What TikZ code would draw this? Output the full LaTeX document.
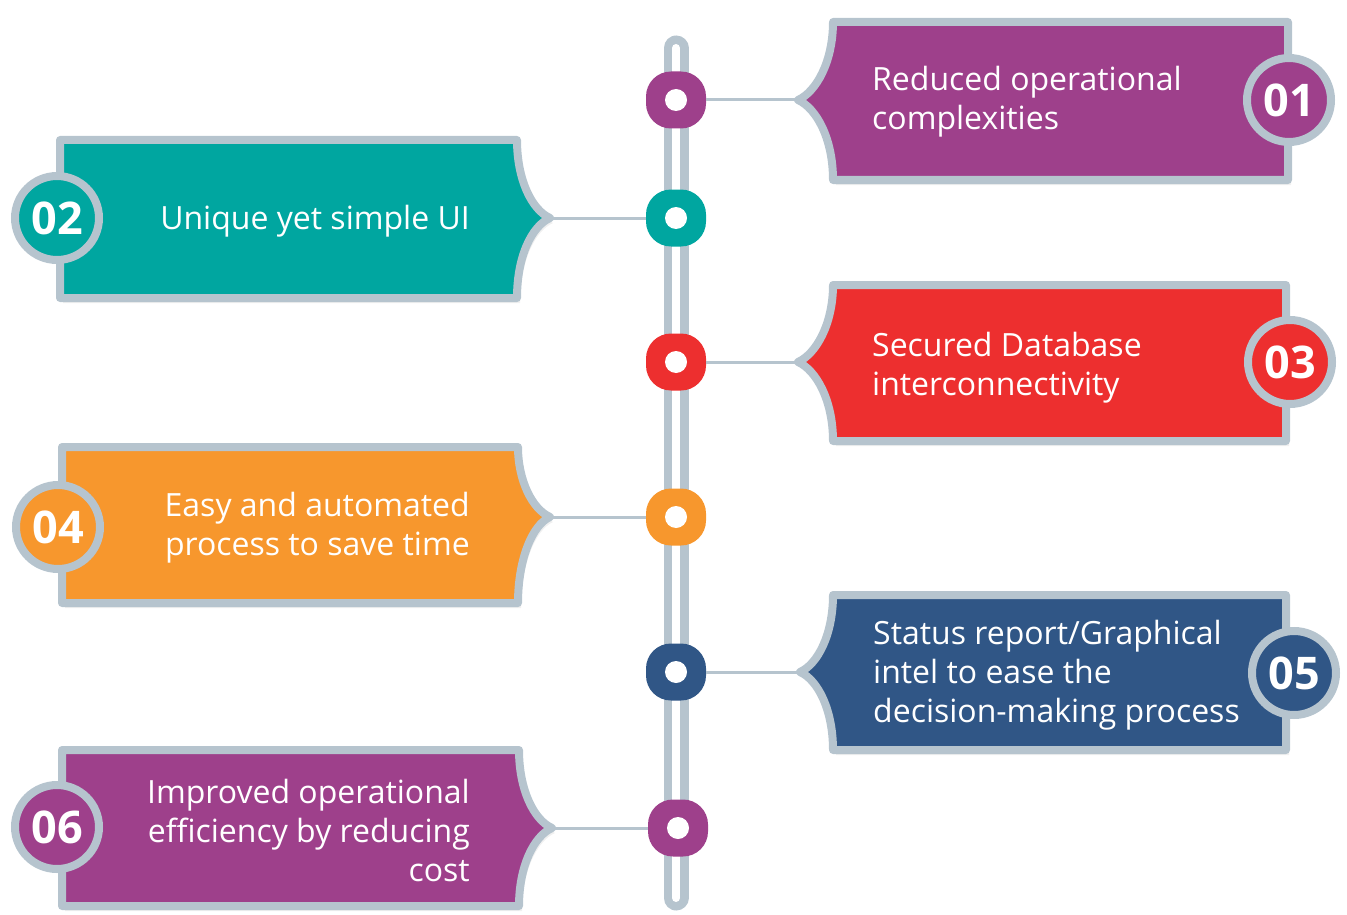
\documentclass[tikz,border=0pt]{standalone}
\usepackage{fontspec}
\setmainfont{Open Sans}
\usetikzlibrary{shadows}

\definecolor{plum}{RGB}{158,64,139}
\definecolor{sea}{RGB}{0,166,160}
\definecolor{scarlet}{RGB}{237,47,47}
\definecolor{amber}{RGB}{247,151,45}
\definecolor{navy}{RGB}{48,86,134}
\definecolor{edge}{RGB}{182,196,206}

\begin{document}
\begin{tikzpicture}[x=1pt,y=-1pt,
	card/.style={draw=edge,line width=8pt,line join=round,fill=#1,
		drop shadow={opacity=0.12,shadow xshift=3pt,shadow yshift=-5pt}},
	badge/.style={circle,draw=edge,line width=8pt,fill=#1,minimum size=84pt,inner sep=0pt,
		text=white,font=\fontsize{45}{45}\selectfont\bfseries},
	knob/.style={rectangle,rounded corners=25pt,minimum width=60pt,minimum height=57pt,fill=#1,
		path picture={\fill[white] (path picture bounding box.center) circle (11pt);}},
	blurb/.style={text=white,inner sep=0pt,font=\fontsize{32}{39}\selectfont},
	link/.style={draw=edge,line width=3pt}]

\useasboundingbox (0,0) rectangle (1347,915);

% rail
\coordinate (top) at (676,48);
\coordinate (bot) at (676,898);
\draw[edge,line width=25pt,line cap=round] (top) -- (bot);
\draw[white,line width=8pt,line cap=round] (top) -- (bot);

% dots on the rail
\node[knob=plum]    (k1) at (676,100) {};
\node[knob=sea]     (k2) at (676,218) {};
\node[knob=scarlet] (k3) at (676,362) {};
\node[knob=amber]   (k4) at (676,517) {};
\node[knob=navy]    (k5) at (676,672) {};
\node[knob=plum]    (k6) at (678,828) {};

% tips of the cards
\coordinate (t1) at (798,100);
\coordinate (t2) at (550,218);
\coordinate (t3) at (798,362);
\coordinate (t4) at (550,517);
\coordinate (t5) at (800,672);
\coordinate (t6) at (552,828);

\foreach \i in {1,...,6}
	\draw[link] (t\i) -- (k\i);

% cards
\draw[card=plum] (1288,22) -- (833,22) .. controls (833,62) and (816,92) .. (t1)
	.. controls (816,108) and (833,138) .. (833,180) -- (1288,180) -- cycle;
\draw[card=sea] (60,140) -- (517,140) .. controls (517,180) and (532,210) .. (t2)
	.. controls (532,226) and (517,256) .. (517,298) -- (60,298) -- cycle;
\draw[card=scarlet] (1286,285) -- (833,285) .. controls (833,324) and (816,354) .. (t3)
	.. controls (816,370) and (833,400) .. (833,441) -- (1286,441) -- cycle;
\draw[card=amber] (62,447) -- (518,447) .. controls (518,480) and (532,509) .. (t4)
	.. controls (532,525) and (518,560) .. (518,603) -- (62,603) -- cycle;
\draw[card=navy] (1286,595) -- (833,595) .. controls (833,634) and (818,664) .. (t5)
	.. controls (818,680) and (833,710) .. (833,750) -- (1286,750) -- cycle;
\draw[card=plum] (62,750) -- (519,750) .. controls (519,790) and (534,820) .. (t6)
	.. controls (534,836) and (519,866) .. (519,906) -- (62,906) -- cycle;

% numbers
\node[badge=plum]    (n1) at (1289,100) {01};
\node[badge=sea]     (n2) at (57,218)   {02};
\node[badge=scarlet] (n3) at (1290,362) {03};
\node[badge=amber]   (n4) at (58,527)   {04};
\node[badge=navy]    (n5) at (1294,673) {05};
\node[badge=plum]    (n6) at (57,827)   {06};

% texts
\node[blurb,anchor=west,align=left]  (x1) at (872,102) {Reduced operational\\complexities};
\node[blurb,anchor=east,align=right] (x2) at (470,221) {Unique yet simple UI};
\node[blurb,anchor=west,align=left]  (x3) at (872,368) {Secured Database\\interconnectivity};
\node[blurb,anchor=east,align=right] (x4) at (470,528) {Easy and automated\\process to save time};
\node[blurb,anchor=west,align=left]  (x5) at (873,675) {Status report/Graphical\\intel to ease the\\decision-making process};
\node[blurb,anchor=east,align=right] (x6) at (470,830) {Improved operational\\efficiency by reducing\\cost};
\end{tikzpicture}
\end{document}
